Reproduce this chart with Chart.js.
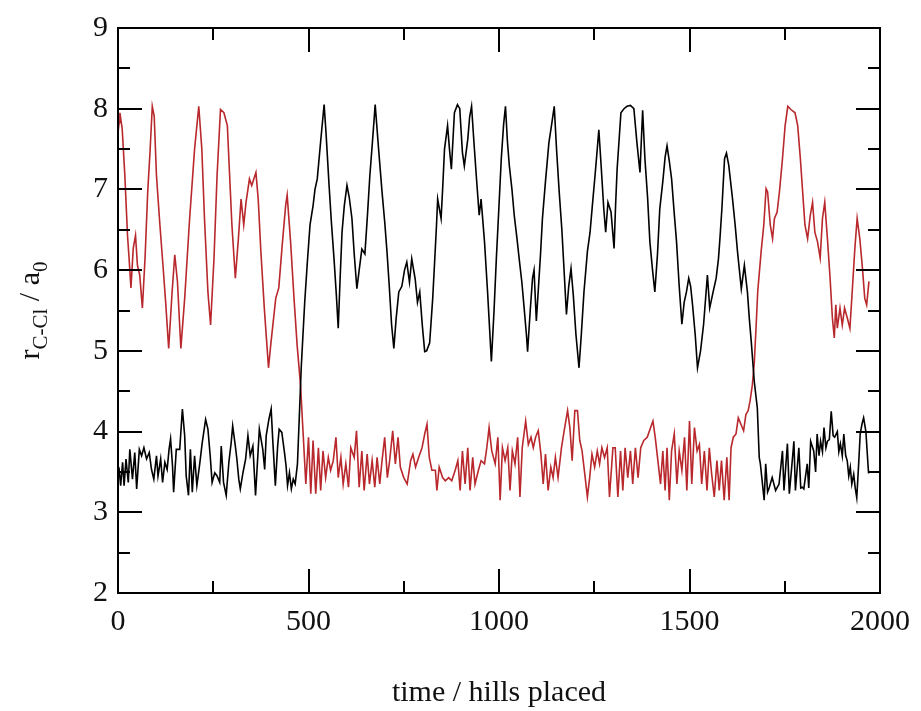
<!DOCTYPE html>
<html lang="en">
<head>
<meta charset="UTF-8">
<title>r C-Cl vs time</title>
<script src="https://cdn.jsdelivr.net/npm/chart.js"></script>
<style>
    body { margin: 0; background: white; }
    #chart { display: block; }
</style>
</head>
<body>
<canvas id="chart" width="921" height="711"></canvas>
<script>
// x tick labels and y tick labels
const xTicks = [0, 500, 1000, 1500, 2000];
const yTicks = [2, 3, 4, 5, 6, 7, 8, 9];

// black trace (time, r in a0)
const blackX = [0,3,7,12,16,21,27,31,38,44,49,56,62,68,75,82,88,94,101,105,112,117,123,129,134,138,143,146,153,162,169,175,179,185,190,195,201,207,214,221,230,236,242,247,254,260,267,271,277,284,291,297,301,308,312,317,321,328,335,341,347,354,361,367,371,380,385,389,396,402,406,413,419,423,430,437,441,445,450,455,460,465,471,476,
  481,490,497,504,512,517,523,532,541,546,554,560,567,573,578,583,588,594,601,607,614,620,627,633,640,648,655,661,668,675,684,693,700,706,712,718,724,730,737,745,752,758,765,771,780,786,792,799,805,810,818,826,831,836,839,848,852,857,865,870,875,879,883,891,897,904,909,918,923,928,934,941,948,953,962,970,975,980,987,993,1000,1006,1012,1017,1022,1027,1034,1040,1047,1053,1060,1066,1072,1075,1082,1088,1092,1098,1104,1109,1114,1122,1131,1138,1145,1151,1158,1165,1171,1177,1183,1189,1195,1202,1210,1216,1223,1232,1239,1245,1252,1257,1262,1268,1275,1280,1286,1294,1302,1306,1310,1315,1320,1328,1336,1345,1354,1362,1370,1377,1383,1390,1396,1403,1409,1416,1422,1430,1436,1441,1447,1453,1460,1466,1473,1480,1486,1492,1498,1503,1508,1515,1521,1529,1537,1547,1553,1562,1570,1576,1580,1585,1592,1597,1603,1613,1620,1626,1636,1644,1652,1657,1662,1670,1678,1683,
  1686,1696,1700,1705,1709,1717,1726,1735,1744,1748,1757,1762,1769,1774,1778,1787,1792,1796,1800,1809,1813,1818,1826,1831,1835,1840,1844,1849,1853,1858,1862,1867,1872,1877,1881,1888,1892,1896,1901,1905,1910,1914,1918,1922,1926,1931,1935,1939,1944,1948,1953,1957,1963,1967,1970];
const blackY = [3.50,3.53,3.33,3.62,3.33,3.66,3.37,3.78,3.41,3.74,3.29,3.78,3.70,3.80,3.66,3.74,3.53,3.41,3.70,3.45,3.66,3.37,3.62,3.53,3.78,3.91,3.58,3.25,3.78,3.78,4.28,3.95,3.45,3.21,3.78,3.25,3.70,3.33,3.58,3.86,4.15,4.03,3.70,3.37,3.49,3.45,3.37,3.82,3.37,3.21,3.62,3.86,4.07,3.82,3.66,3.41,3.29,3.49,3.66,3.95,3.70,3.82,3.21,3.70,4.03,3.78,3.53,3.95,4.15,4.28,3.91,3.33,3.82,4.03,3.99,3.74,3.58,3.33,3.49,3.29,3.41,3.35,3.60,4.20,
  4.80,5.60,6.10,6.56,6.80,7.00,7.13,7.60,8.05,7.70,7.05,6.60,6.14,5.70,5.28,5.90,6.47,6.80,7.05,6.90,6.64,6.20,5.77,6.00,6.26,6.20,6.70,7.17,7.60,8.05,7.50,6.97,6.60,6.23,5.80,5.33,5.03,5.40,5.73,5.80,6.00,6.10,5.85,6.14,5.89,5.60,5.73,5.30,4.99,5.00,5.10,5.65,6.10,6.56,6.88,6.64,7.00,7.50,7.79,7.50,7.25,7.60,7.95,8.05,8.00,7.46,7.29,7.62,7.90,8.03,7.60,7.13,6.68,6.88,6.35,5.73,5.30,4.87,5.50,6.14,6.80,7.38,7.80,8.03,7.60,7.30,7.00,6.68,6.40,6.14,5.85,5.53,5.20,4.99,5.50,5.90,6.00,5.37,5.82,6.20,6.64,7.10,7.58,7.80,8.03,7.50,6.97,6.50,5.98,5.45,5.80,6.02,5.69,5.20,4.79,5.20,5.73,6.23,6.47,6.80,7.17,7.45,7.74,7.30,6.76,6.47,6.84,6.72,6.27,6.80,7.25,7.60,7.95,8.00,8.03,8.04,8.00,7.58,7.21,7.98,7.38,6.90,6.35,6.00,5.73,6.20,6.76,7.10,7.40,7.54,7.35,7.13,6.70,6.35,5.80,5.33,5.60,5.73,5.90,5.80,5.57,5.20,4.79,5.00,5.33,5.94,5.53,5.73,5.90,6.14,6.40,6.76,7.38,7.45,7.30,6.88,6.55,6.23,5.77,6.06,5.73,5.40,5.12,4.62,4.29,3.68,
  3.60,3.15,3.60,3.25,3.30,3.43,3.27,3.35,3.76,3.27,3.85,3.23,3.60,3.88,3.27,3.80,3.30,3.31,3.29,3.60,3.30,3.88,3.76,3.50,3.97,3.70,3.88,3.75,4.05,3.80,3.88,3.90,4.25,3.95,3.93,4.00,3.75,3.85,3.70,3.97,3.70,3.64,3.45,3.56,3.35,3.47,3.30,3.18,3.60,3.97,4.10,4.17,4.00,3.70,3.48];

// red trace (time, r in a0)
const redX = [0,3,5,11,18,25,29,34,40,46,51,57,64,71,78,84,90,95,101,110,118,125,133,142,149,156,165,175,188,201,212,220,227,236,243,252,260,269,278,287,293,299,308,316,323,330,336,345,351,362,368,375,384,395,401,414,422,431,440,444,453,462,470,479,486,
  493,500,506,512,519,526,532,538,545,552,558,565,572,578,585,591,598,605,611,620,626,633,640,646,654,660,667,674,680,687,693,700,707,713,721,728,735,741,750,759,768,774,781,789,798,805,811,817,824,833,837,843,852,859,868,876,885,892,898,904,911,918,924,931,937,946,953,962,968,974,981,990,997,1003,1009,1016,1023,1029,1035,1042,1049,1055,1061,1070,1077,1084,1090,1096,1103,1110,1116,1122,1129,1136,1142,1148,1155,1164,1171,1180,1186,1192,1199,1206,1212,1218,1225,1232,1238,1244,1251,1258,1264,1270,1277,1284,1290,1299,1305,1312,1319,1325,1331,1338,1345,1351,1358,1365,1372,1380,1389,1398,1404,1410,1417,1424,1430,1436,1441,1447,1453,1460,1467,1473,1480,1487,1493,1500,1506,1513,1520,1526,1532,1539,1546,1552,1558,1565,1572,1578,1584,1591,1598,1604,1609,1615,1622,1628,1635,1642,1648,1654,1659,1665,
  1670,1675,1679,1688,1695,1701,1705,1712,1718,1723,1730,1736,1744,1751,1758,1766,1777,1784,1791,1797,1803,1810,1817,1823,1829,1836,1843,1849,1855,1862,1869,1875,1880,1884,1888,1895,1901,1907,1914,1921,1927,1934,1940,1947,1954,1960,1965,1971];
const redY = [7.70,7.83,7.95,7.75,7.17,6.43,6.15,5.78,6.27,6.43,6.06,5.94,5.53,6.15,6.97,7.46,8.03,7.91,7.17,6.56,6.06,5.61,5.03,5.73,6.19,5.86,5.03,5.65,6.64,7.50,8.03,7.50,6.64,5.73,5.32,6.15,7.17,7.99,7.95,7.79,7.17,6.56,5.90,6.39,6.88,6.56,6.84,7.13,7.05,7.21,6.88,6.23,5.53,4.79,5.08,5.65,5.78,6.31,6.80,6.93,6.35,5.65,5.08,4.58,3.97,
  3.35,3.93,3.23,3.89,3.23,3.80,3.27,3.76,3.43,3.68,3.52,3.64,3.93,3.43,3.68,3.35,3.60,3.31,3.80,3.68,4.01,3.31,3.76,3.27,3.72,3.35,3.64,3.31,3.68,3.35,3.64,3.93,3.43,3.64,4.01,3.60,3.93,3.56,3.43,3.35,3.64,3.72,3.56,3.68,3.80,3.97,4.09,3.68,3.52,3.52,3.27,3.56,3.43,3.39,3.43,3.39,3.52,3.64,3.27,3.76,3.35,3.80,3.27,3.68,3.35,3.52,3.64,3.60,3.80,4.05,3.76,3.60,3.93,3.15,3.80,3.64,3.80,3.27,3.76,3.60,3.93,3.19,3.80,4.13,3.84,3.93,3.80,3.93,4.01,3.72,3.35,3.72,3.27,3.56,3.43,3.68,3.43,3.80,4.01,4.26,4.05,3.64,4.26,4.26,3.89,3.76,3.48,3.19,3.43,3.72,3.56,3.76,3.60,3.80,3.68,3.80,3.19,3.80,3.80,3.19,3.76,3.27,3.80,3.43,3.76,3.35,3.80,3.43,3.80,3.89,3.93,4.05,4.13,3.93,3.64,3.35,3.76,3.27,3.80,3.15,3.76,3.97,3.35,3.76,3.52,3.93,3.27,4.13,3.35,4.05,3.76,3.84,3.35,3.76,3.27,3.80,3.48,3.19,3.64,3.27,3.64,3.15,3.68,3.15,3.80,3.93,3.97,4.17,4.09,4.01,4.21,4.26,4.38,4.58,
  4.85,5.32,5.73,6.23,6.56,7.01,6.97,6.56,6.39,6.64,6.72,6.97,7.38,7.79,8.03,7.99,7.95,7.79,7.38,6.97,6.56,6.39,6.68,6.84,6.47,6.35,6.15,6.64,6.84,6.39,5.90,5.41,5.16,5.57,5.28,5.53,5.32,5.53,5.41,5.28,5.73,6.27,6.64,6.39,6.02,5.65,5.57,5.86];

const serif = 'Liberation Serif';

// frame with inward major/minor ticks on all four sides
const frameTicks = {
    id: 'frameTicks',
    afterDatasetsDraw(chart) {
        const ctx = chart.ctx;
        const a = chart.chartArea;
        const xs = chart.scales.x, ys = chart.scales.y;
        ctx.save();
        ctx.strokeStyle = '#000';
        ctx.lineWidth = 2;
        ctx.strokeRect(a.left, a.top, a.right - a.left, a.bottom - a.top);
        ctx.beginPath();
        for (let v = 0; v <= 2000; v += 250) {
            const len = v % 500 === 0 ? 24 : 12;
            const px = Math.round(xs.getPixelForValue(v));
            ctx.moveTo(px, a.bottom); ctx.lineTo(px, a.bottom - len);
            ctx.moveTo(px, a.top); ctx.lineTo(px, a.top + len);
        }
        for (let v = 2; v <= 9; v += 0.5) {
            const len = Number.isInteger(v) ? 24 : 12;
            const py = Math.round(ys.getPixelForValue(v));
            ctx.moveTo(a.left, py); ctx.lineTo(a.left + len, py);
            ctx.moveTo(a.right, py); ctx.lineTo(a.right - len, py);
        }
        ctx.stroke();
        ctx.restore();
    }
};

// rotated y title with subscripts: r_{C-Cl} / a_0
const yTitle = {
    id: 'yTitle',
    afterDraw(chart) {
        const ctx = chart.ctx;
        const a = chart.chartArea;
        const parts = [
            ['r', false], ['C-Cl', true], [' / a', false], ['0', true]
        ];
        const big = '30px "' + serif + '"', small = '21px "' + serif + '"';
        ctx.save();
        ctx.fillStyle = '#111';
        ctx.textBaseline = 'alphabetic';
        let total = 0;
        parts.forEach(p => { ctx.font = p[1] ? small : big; total += ctx.measureText(p[0]).width; });
        ctx.translate(39, (a.top + a.bottom) / 2);
        ctx.rotate(-Math.PI / 2);
        let x = -total / 2;
        parts.forEach(p => {
            ctx.font = p[1] ? small : big;
            ctx.fillText(p[0], x, p[1] ? 8 : 0);
            x += ctx.measureText(p[0]).width;
        });
        ctx.restore();
    }
};

const toPoints = (xs, ys) => xs.map((x, i) => ({ x: x, y: ys[i] }));

new Chart(document.getElementById('chart'), {
    type: 'line',
    data: {
        datasets: [
            {
                label: 'black',
                data: toPoints(blackX, blackY),
                borderColor: '#000',
                borderWidth: 1.6,
                pointRadius: 0,
                tension: 0
            },
            {
                label: 'red',
                data: toPoints(redX, redY),
                borderColor: '#b8282c',
                borderWidth: 1.6,
                pointRadius: 0,
                tension: 0
            }
        ]
    },
    options: {
        responsive: false,
        animation: false,
        devicePixelRatio: 1,
        layout: { padding: { top: 22, right: 28, left: 0, bottom: 0 } },
        plugins: { legend: { display: false }, tooltip: { enabled: false } },
        scales: {
            x: {
                type: 'linear',
                min: 0,
                max: 2000,
                afterBuildTicks: s => { s.ticks = xTicks.map(v => ({ value: v })); },
                ticks: {
                    font: { family: serif, size: 30 }, color: '#111', padding: 11, maxRotation: 0,
                    callback: v => String(v)
                },
                grid: { display: false, drawTicks: false },
                border: { display: false },
                title: {
                    display: true,
                    text: 'time / hills placed',
                    font: { family: serif, size: 30 },
                    color: '#111',
                    padding: { top: 0, bottom: 0 }
                },
                afterFit: s => { s.height = 118; }
            },
            y: {
                min: 2,
                max: 9,
                afterBuildTicks: s => { s.ticks = yTicks.map(v => ({ value: v })); },
                ticks: { font: { family: serif, size: 30 }, color: '#111', padding: 10, callback: v => String(v) },
                grid: { display: false, drawTicks: false },
                border: { display: false },
                afterFit: s => { s.width = 118; }
            }
        }
    },
    plugins: [frameTicks, yTitle]
});
</script>
</body>
</html>
